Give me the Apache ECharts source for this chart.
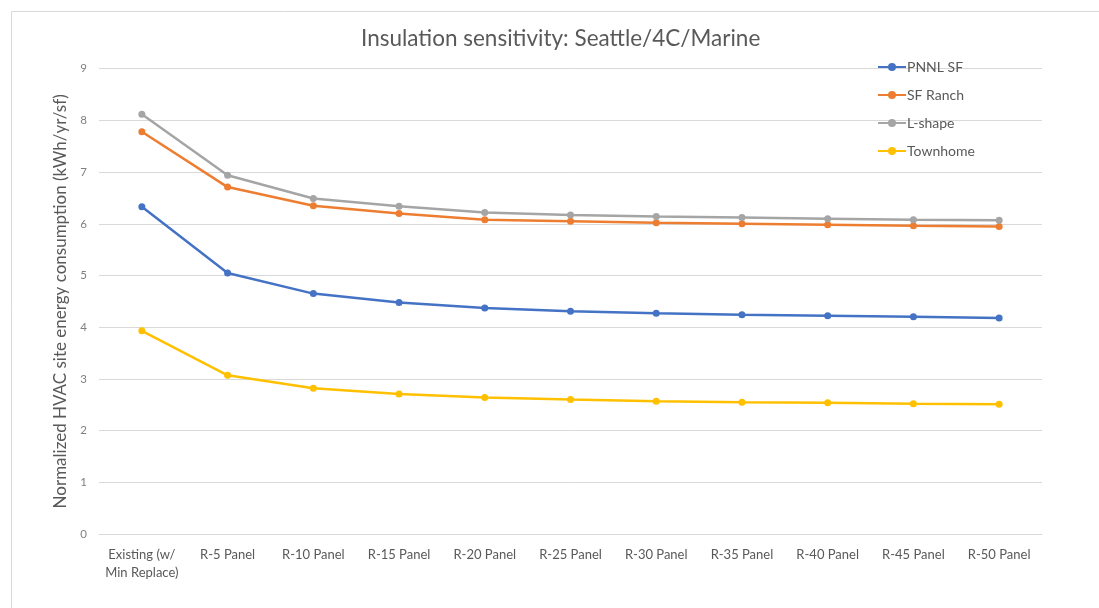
<!DOCTYPE html>
<html>
<head>
<meta charset="utf-8">
<script src="https://cdn.jsdelivr.net/npm/echarts@6/dist/echarts.min.js"></script>
<style>html,body{margin:0;padding:0;background:#fff;}#c{width:1099px;height:608px;}</style>
</head>
<body>
<div id="c"></div>
<script>
const categories = ['Existing (w/\nMin Replace)', 'R-5 Panel', 'R-10 Panel', 'R-15 Panel', 'R-20 Panel', 'R-25 Panel', 'R-30 Panel', 'R-35 Panel', 'R-40 Panel', 'R-45 Panel', 'R-50 Panel'];
const pnnlSF   = [6.33, 5.05, 4.65, 4.48, 4.37, 4.31, 4.27, 4.24, 4.22, 4.20, 4.18];
const sfRanch  = [7.78, 6.71, 6.35, 6.20, 6.08, 6.05, 6.02, 6.00, 5.98, 5.96, 5.95];
const lShape   = [8.12, 6.94, 6.49, 6.34, 6.22, 6.17, 6.14, 6.12, 6.10, 6.08, 6.07];
const townhome = [3.93, 3.07, 2.82, 2.71, 2.64, 2.60, 2.57, 2.55, 2.54, 2.52, 2.51];
const yTicks = {min: 0, max: 9, interval: 1};

const FONT = 'Lato';
const chart = echarts.init(document.getElementById('c'));
function s(name, data, color) {
  return {
    name, type: 'line', data,
    symbol: 'circle', symbolSize: 7,
    lineStyle: {color, width: 2.5},
    itemStyle: {color},
    emphasis: {disabled: true}
  };
}
chart.setOption({
  animation: false,
  textStyle: {fontFamily: FONT},
  graphic: [{type: 'rect', shape: {x: 11.5, y: 11.5, width: 1200, height: 700}, style: {fill: 'none', stroke: '#d9d9d9', lineWidth: 1}, silent: true}],
  title: {
    text: 'Insulation sensitivity: Seattle/4C/Marine',
    left: 356, top: 22,
    textStyle: {fontFamily: FONT, fontSize: 22.5, fontWeight: 'normal', color: '#595959'}
  },
  legend: {
    orient: 'vertical', left: 872, top: 55, itemGap: 14,
    itemWidth: 28, itemHeight: 10,
    data: ['PNNL SF', 'SF Ranch', 'L-shape', 'Townhome'],
    textStyle: {fontFamily: FONT, fontSize: 14, color: '#595959', padding: [0, 0, 0, -4]}
  },
  grid: {left: 99, right: 57, top: 68.7, bottom: 74},
  xAxis: {
    type: 'category', data: categories, boundaryGap: true,
    axisLine: {lineStyle: {color: '#d9d9d9', width: 1}},
    axisTick: {show: false},
    axisLabel: {color: '#595959', fontSize: 13, margin: 12, lineHeight: 18, interval: 0}
  },
  yAxis: {
    type: 'value', min: yTicks.min, max: yTicks.max, interval: yTicks.interval,
    name: 'Normalized HVAC site energy consumption (kWh/yr/sf)',
    nameLocation: 'middle', nameGap: 23, nameRotate: 90,
    nameTextStyle: {fontFamily: FONT, fontSize: 17, color: '#595959'},
    axisLine: {show: false}, axisTick: {show: false},
    axisLabel: {color: '#7f7f7f', fontSize: 11.5, margin: 12},
    splitLine: {lineStyle: {color: '#d9d9d9', width: 1}}
  },
  series: [
    s('PNNL SF', pnnlSF, '#4472C4'),
    s('SF Ranch', sfRanch, '#ED7D31'),
    s('L-shape', lShape, '#A5A5A5'),
    s('Townhome', townhome, '#FFC000')
  ]
});
</script>
</body>
</html>
